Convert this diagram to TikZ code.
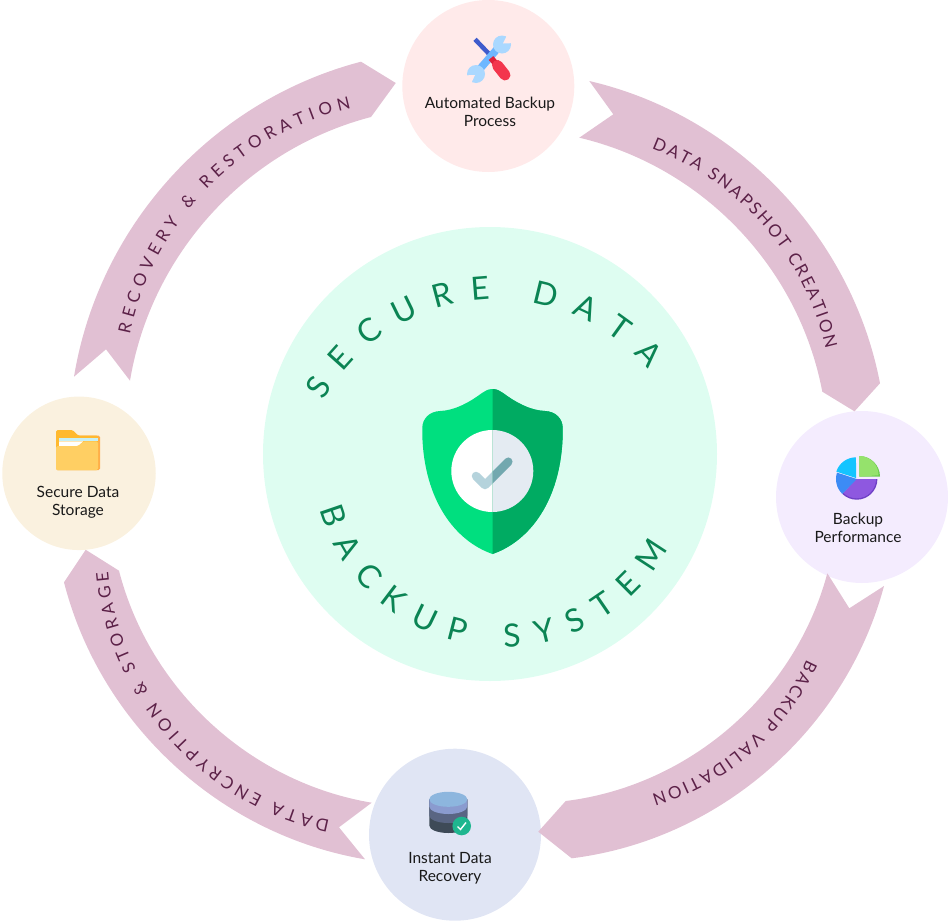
\documentclass[tikz,border=0pt]{standalone}
\usepackage{fontspec}
\setmainfont{Lato}
\usetikzlibrary{decorations.text}
\definecolor{ringback}{HTML}{DEFDF1}
\definecolor{ringink}{HTML}{0B8454}
\definecolor{ribbonpink}{HTML}{E1C0D3}
\definecolor{ribbonink}{HTML}{5C2148}
\definecolor{autoback}{HTML}{FFEAEA}
\definecolor{perfback}{HTML}{F4ECFE}
\definecolor{recoback}{HTML}{E0E5F4}
\definecolor{storeback}{HTML}{FAF1DF}
\newcommand{\ribbonfont}{\fontsize{17}{17}\selectfont}
\newcommand{\ringfont}{\fontsize{32}{32}\selectfont}
\tikzset{
    stepdisc/.style={circle,inner sep=0pt,outer sep=0pt,minimum size=172pt},
    steplabel/.style={align=center,text=black!90,font=\fontsize{15.5}{18.3}\selectfont,inner sep=0pt},
    ribbon/.style={fill=ribbonpink},
    edgearc/.style={looseness=.92},
    ribbontext/.style={decorate,decoration={text along path,text align={fit to path},text color=ribbonink}},
    ringtext/.style={decorate,decoration={text along path,text align={fit to path},text color=ringink}}
}
\begin{document}
\begin{tikzpicture}[x=1pt,y=-1pt]
\useasboundingbox (0,0) rectangle (948,921);
% discs
\node[stepdisc,fill=ringback,minimum size=454pt] (ring) at (490,454) {};
\node[stepdisc,fill=autoback] (auto) at (488.3,86) {};
\node[stepdisc,fill=perfback] (perf) at (862,497) {};
\node[stepdisc,fill=recoback] (reco) at (455,834.7) {};
\node[stepdisc,fill=storeback,minimum size=153.5pt] (store) at (79,473.3) {};
% ribbon ends
\coordinate (snapOut) at (589.3,81);
\coordinate (snapNotch) at (613.3,114.3);
\coordinate (snapIn) at (579.3,137.7);
\coordinate (snapHeadOut) at (880,383.3);
\coordinate (snapHeadIn) at (822.3,391.7);
\coordinate (valOut) at (884,586);
\coordinate (valNotch) at (849.3,608.3);
\coordinate (valIn) at (827.3,573.3);
\coordinate (valHeadOut) at (571.7,858.3);
\coordinate (valHeadIn) at (565.7,801);
\coordinate (encOut) at (365,859.3);
\coordinate (encNotch) at (339,827.3);
\coordinate (encIn) at (371.7,802.7);
\coordinate (encHeadOut) at (64,582.3);
\coordinate (encHeadIn) at (119,570.7);
\coordinate (resOut) at (74,376.7);
\coordinate (resNotch) at (106,349.3);
\coordinate (resIn) at (130,380.7);
\coordinate (resHeadOut) at (361,61.7);
\coordinate (resHeadIn) at (371,117);
% ribbons
\fill[ribbon] (snapOut) to[bend left=33,edgearc] (snapHeadOut) -- (perf.95) -- (snapHeadIn) to[bend right=33,edgearc] (snapIn) -- (snapNotch) -- cycle;
\fill[ribbon] (valOut) to[bend left=34,edgearc] (valHeadOut) -- ([xshift=-2.7pt]reco.2) -- (valHeadIn) to[bend right=34,edgearc] (valIn) -- (valNotch) -- cycle;
\fill[ribbon] (encOut) to[bend left=33,edgearc] (encHeadOut) -- (store.-85) -- (encHeadIn) to[bend right=33,edgearc] (encIn) -- (encNotch) -- cycle;
\fill[ribbon] (resOut) to[bend left=33,edgearc] (resHeadOut) -- ([xshift=-6.6pt]auto.178) -- (resHeadIn) to[bend right=33,edgearc] (resIn) -- (resNotch) -- cycle;
% ribbon texts
\path[ribbontext,decoration={text={|\ribbonfont|DATA SNAPSHOT CREATION}}] (651.7,148.3) to[bend left=28,edgearc] (825.7,349.3);
\path[ribbontext,decoration={text={|\ribbonfont|BACKUP VALIDATION}}] (806.7,659) to[bend left=24,edgearc] (651.7,794.3);
\path[ribbontext,decoration={text={|\ribbonfont|DATA ENCRYPTION {\&} STORAGE}}] (330,820) to[bend left=37,edgearc] (108.3,571.7);
\path[ribbontext,decoration={text={|\ribbonfont|RECOVERY {\&} RESTORATION}}] (130,334.3) to[bend left=33,edgearc] (351,108.3);
% ring texts
\path[ringtext,decoration={text={|\ringfont|SECURE DATA}}] (496.5,498.6) ++(209.5:199) arc[start angle=209.5,end angle=319.7,radius=199];
\path[ringtext,decoration={text={|\ringfont|BACKUP SYSTEM}}] (502.1,457.6) ++(164.15:189.4) arc[start angle=164.15,end angle=28.6,radius=189.4];
% shield
\def\shieldpath{(492.5,389) .. controls (488,389) and (485,391) .. (482,393) .. controls (470,402) and (455,410.5) .. (440,411) .. controls (429,411.5) and (422.3,419) .. (422.3,428) -- (422.3,435) .. controls (424,500) and (455,541) .. (492.5,554) .. controls (530,541) and (561,500) .. (562.7,435) -- (562.7,428) .. controls (562.7,419) and (556,411.5) .. (545,411) .. controls (530,410.5) and (515,402) .. (503,393) .. controls (500,391) and (497,389) .. (492.5,389) -- cycle}
\fill[color={rgb,255:red,0;green,223;blue,127}] \shieldpath;
\fill[white] (492.3,471) circle (41);
\draw[color={rgb,255:red,181;green,211;blue,220},line width=8.5pt,line cap=round,line join=round] (476,476) -- (485,485) -- (508.3,461.7);
\begin{scope}
\clip (492.5,380) rectangle (570,560);
\fill[color={rgb,255:red,0;green,171;blue,98}] \shieldpath;
\fill[color={rgb,255:red,228;green,235;blue,242}] (492.3,471) circle (41);
\draw[color={rgb,255:red,114;green,168;blue,175},line width=8.5pt,line cap=round,line join=round] (476,476) -- (485,485) -- (508.3,461.7);
\end{scope}
% tools icon
\draw[color={rgb,255:red,63;green,91;blue,204},line width=4.5pt] (475,39.3) -- (492,57);
\draw[color={rgb,255:red,110;green,183;blue,255},line width=7.5pt] (479,70) -- (498,48);
\fill[color={rgb,255:red,170;green,216;blue,255}] (502,44.5) circle (9);
\fill[color={rgb,255:red,170;green,216;blue,255}] (476,74) circle (9);
\fill[autoback] (503,43.5) -- (509,31) -- (516,43) -- cycle;
\fill[autoback] (475,75) -- (469,88) -- (462,75.5) -- cycle;
\draw[color={rgb,255:red,224;green,33;blue,58},line width=6pt] (491,58) -- (497,65);
\draw[color={rgb,255:red,243;green,54;blue,77},line width=11pt,line cap=round] (497.5,65.5) -- (505,75);
% pie icon
\fill[color={rgb,255:red,110;green,63;blue,197}] (856.7,479) -- (877.4,479) arc[start angle=0,end angle=134,radius=20.7] -- cycle;
\fill[color={rgb,255:red,142;green,88;blue,224}] (856.7,479) -- (876,479) arc[start angle=0,end angle=134,radius=19.3] -- cycle;
\fill[color={rgb,255:red,60;green,139;blue,245}] (856.7,479) -- (842.3,493.9) arc[start angle=134,end angle=198,radius=20.7] -- cycle;
\fill[color={rgb,255:red,20;green,196;blue,255}] (856,478) -- (836.3,471.6) arc[start angle=198,end angle=270,radius=20.7] -- cycle;
\fill[color={rgb,255:red,108;green,203;blue,79}] (859.3,476.7) -- (859.3,456) arc[start angle=-90,end angle=0,radius=20.7] -- cycle;
\fill[color={rgb,255:red,149;green,226;blue,108}] (859.3,476.7) -- (859.3,456) arc[start angle=-90,end angle=0,radius=19.2] -- cycle;
% database icon
\foreach \ylow/\rr/\gg/\bb in {825.5/62/74/87,815.5/89/101/131,806.5/138/155/207} {
    \fill[color={rgb,255:red,\rr;green,\gg;blue,\bb}] (429.3,799.3) -- (429.3,\ylow) arc[start angle=180,end angle=0,x radius=19,y radius=7.5] -- (467.3,799.3) -- cycle;
}
\fill[color={rgb,255:red,141;green,182;blue,222}] (448.3,799.3) ellipse (19 and 7.5);
\fill[color={rgb,255:red,31;green,182;blue,143}] (461.7,826) circle (9.3);
\draw[white,line width=1.4pt] (457.5,826.5) -- (460.5,829.5) -- (466,822.5);
% folder icon
\fill[color={rgb,255:red,255;green,174;blue,74},rounded corners=1.5pt] (56,470) rectangle (100,435.7);
\fill[color={rgb,255:red,255;green,185;blue,46},rounded corners=1.5pt] (56,470) -- (56,430) -- (72.7,430) -- (78.3,435.7) -- (98,435.7) -- (98,470) -- cycle;
\fill[color={rgb,255:red,198;green,239;blue,245}] (59,438.3) rectangle (97.7,441.3);
\fill[white] (59,441.3) -- (83.3,441.3) -- (78.3,446) -- (59,446) -- cycle;
\fill[color={rgb,255:red,255;green,207;blue,99},rounded corners=1.5pt] (56,470) -- (56,446) -- (78.3,446) -- (83.3,441.3) -- (98,441.3) -- (98,470) -- cycle;
% labels
\node[steplabel] (autotext) at (490,112) {Automated Backup\\Process};
\node[steplabel] (perftext) at (858,528) {Backup\\Performance};
\node[steplabel] (recotext) at (450,868.5) {Instant Data\\Recovery};
\node[steplabel] (storetext) at (78,502.5) {Secure Data\\Storage};
\end{tikzpicture}
\end{document}
